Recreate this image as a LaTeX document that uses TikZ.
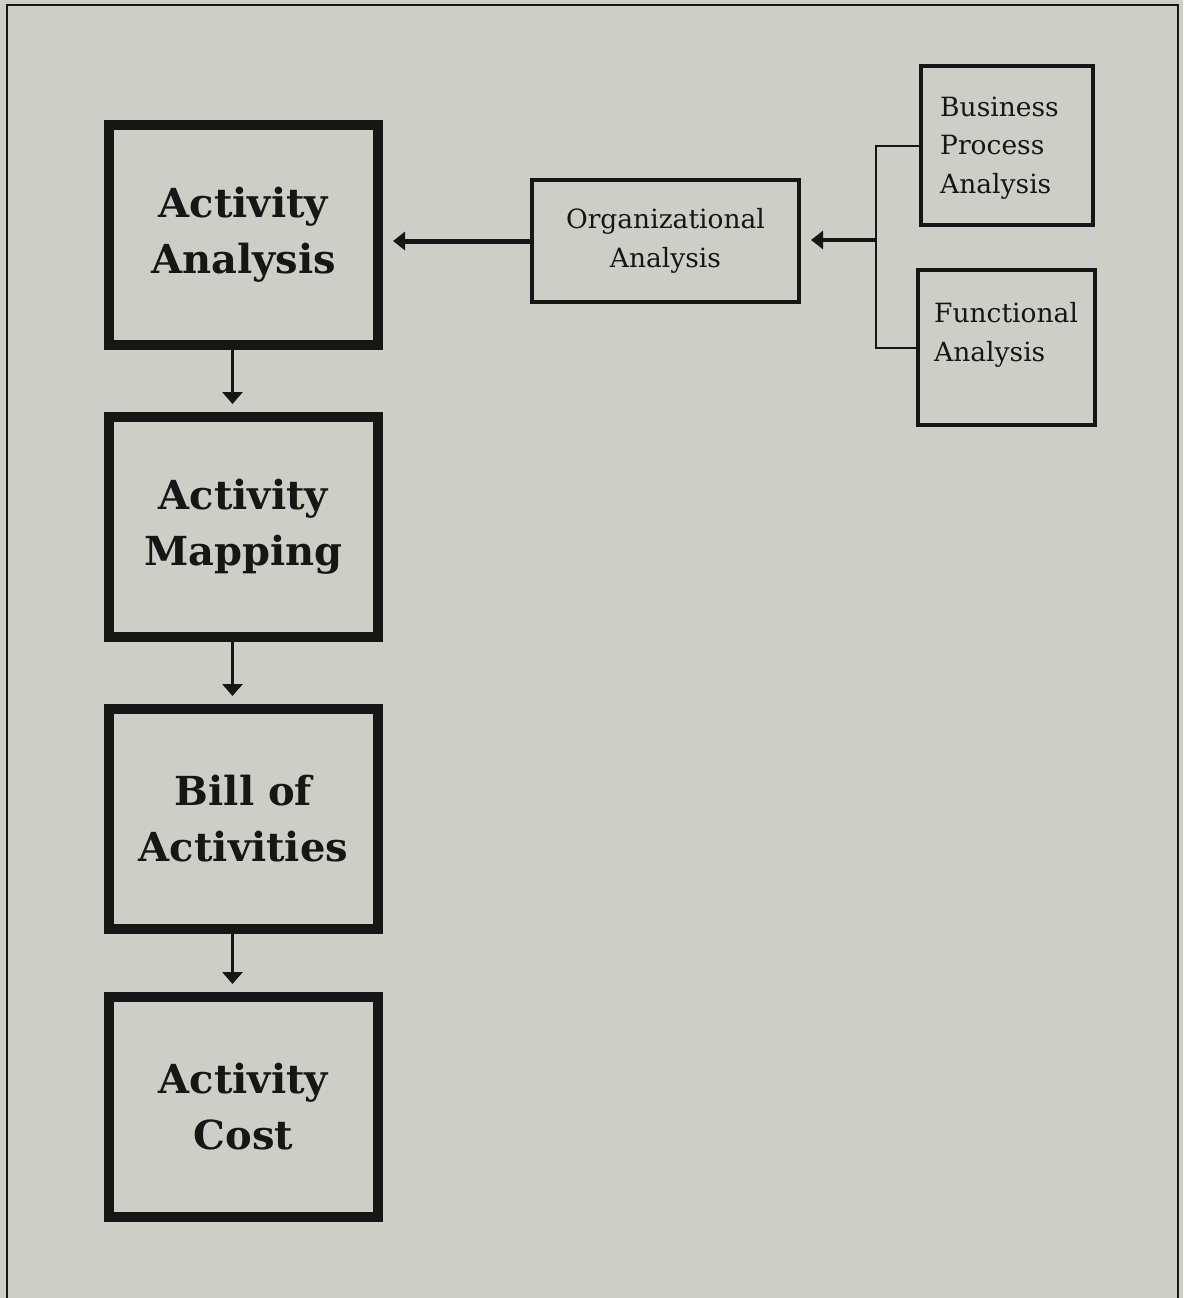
\documentclass[tikz,border=0pt]{standalone}
\usepackage{fontspec}
\setmainfont{DejaVu Serif}
\usetikzlibrary{arrows.meta}
\definecolor{bg}{RGB}{205,207,198}
\definecolor{ink}{RGB}{22,22,20}
\begin{document}
\begin{tikzpicture}[x=1pt,y=-1pt,
  bigbox/.style={draw=ink, text=ink, line width=10pt, minimum width=269pt, minimum height=220pt,
    inner sep=0pt, align=center, font=\fontsize{40}{56}\selectfont\bfseries},
  smallbox/.style={draw=ink, line width=4pt, inner sep=0pt},
  smalltxt/.style={text=ink, inner sep=0pt, font=\fontsize{26.5}{38.5}\selectfont},
  darr/.style={draw=ink, line width=3pt, -{Triangle[length=12pt,width=20pt]}, shorten >=8pt},
  larr/.style={draw=ink, line width=5pt, -{Triangle[length=12pt,width=18pt]}, shorten >=10pt},
  thinl/.style={draw=ink, line width=2pt}]
\fill[bg] (0,0) rectangle (1183,1298);
\useasboundingbox (0,0) rectangle (1183,1298);
\draw[ink, line width=2pt] (7,1298) -- (7,5) -- (1178,5) -- (1178,1298);

% main column
\node[bigbox] (aa) at (243.5,235) {Activity\\Analysis};
\node[bigbox] (am) at (243.5,527) {Activity\\Mapping};
\node[bigbox] (ba) at (243.5,819) {Bill of\\Activities};
\node[bigbox] (ac) at (243.5,1107) {Activity\\Cost};

\draw[darr] ([xshift=-11pt]aa.south) -- ([xshift=-11pt]am.north);
\draw[darr] ([xshift=-11pt]am.south) -- ([xshift=-11pt]ba.north);
\draw[darr] ([xshift=-11pt]ba.south) -- ([xshift=-11pt]ac.north);

% organizational analysis
\node[smallbox, minimum width=267pt, minimum height=122pt, smalltxt, align=center] (org) at (665.5,241) {Organizational\\Analysis};
\draw[larr] (org.west) -- (org.west -| aa.east);

% right boxes
\node[smallbox, minimum width=172pt, minimum height=159pt] (bpa) at (1007,145.5) {};
\node[smalltxt, anchor=base west, align=left] (bpat) at (940,193) {Business\\Process\\Analysis};
\node[smallbox, minimum width=177pt, minimum height=155pt] (fa) at (1006.5,347.5) {};
\node[smalltxt, anchor=base west, align=left] (fat) at (934,361) {Functional\\Analysis};

\coordinate (jx) at (876,240);
\draw[thinl] (bpa.west) -- (bpa.west -| jx) -- (fa.west -| jx) -- (fa.west);
\draw[larr, line width=4pt] (jx) -- (jx -| org.east);
\end{tikzpicture}
\end{document}
